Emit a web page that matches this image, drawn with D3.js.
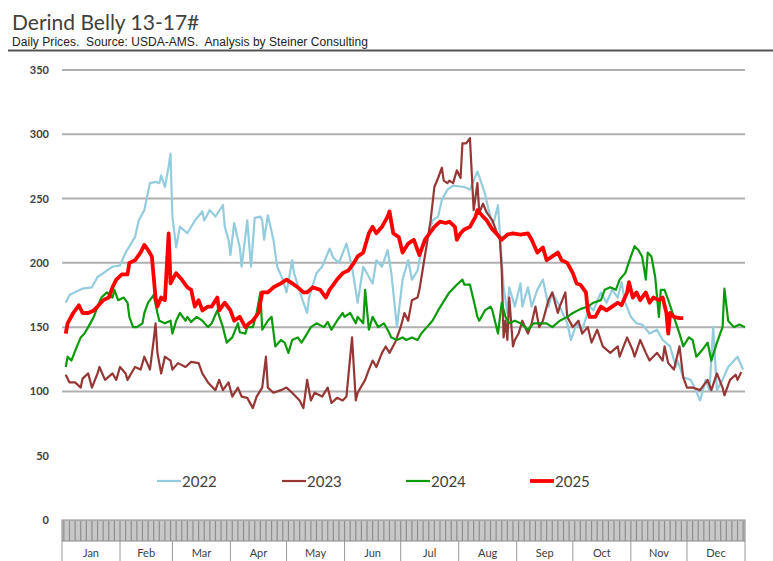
<!DOCTYPE html>
<html>
<head>
<meta charset="utf-8">
<script src="https://cdn.jsdelivr.net/npm/d3@7"></script>
<style>
  body { margin: 0; background: #fff; }
  svg { display: block; }
</style>
</head>
<body>
<svg id="chart" width="773" height="561"></svg>
<script>
var title = 'Derind Belly 13-17#';
var subtitle = 'Daily Prices.  Source: USDA-AMS.  Analysis by Steiner Consulting';

var yTicks = [0, 50, 100, 150, 200, 250, 300, 350];
var gridValues = [100, 150, 200, 250, 300, 350];
var months = ['Jan', 'Feb', 'Mar', 'Apr', 'May', 'Jun', 'Jul', 'Aug', 'Sep', 'Oct', 'Nov', 'Dec'];
var monthStarts = [0, 31, 59, 90, 120, 151, 181, 212, 243, 273, 304, 334, 365];
var years = ['2022', '2023', '2024', '2025'];

// [day of year, price]
var prices2022 = [[2,169],[4,175],[11,180],[16,181],[19,189],[23,193],[27,197],[31,198],[34,208],[39,220],[41,233],[44,241],[47,262],[50,263],[52,262],[53,268],[55,259],[57,275],[58,285],[59,236],[61,212],[63,228],[67,223],[71,233],[75,240],[76,233],[79,241],[82,236],[86,245],[87,228],[89,218],[90,206],[92,231],[95,212],[96,197],[99,233],[101,197],[103,235],[106,236],[107,233],[108,218],[110,237],[113,218],[115,197],[118,187],[120,177],[123,202],[124,192],[129,169],[131,161],[132,173],[136,192],[139,197],[143,211],[145,204],[148,200],[152,215],[155,197],[158,169],[161,197],[166,184],[168,202],[171,197],[174,210],[176,192],[179,150],[182,187],[185,202],[187,187],[190,194],[192,210],[195,218],[198,233],[201,236],[203,249],[206,257],[209,260],[215,259],[218,257],[222,271],[223,267],[226,254],[228,241],[230,231],[231,233],[233,245],[234,223],[236,181],[238,161],[239,181],[242,166],[245,184],[246,166],[249,181],[251,166],[254,179],[257,187],[260,166],[262,177],[266,166],[270,153],[272,140],[275,153],[278,148],[282,166],[284,163],[288,177],[291,169],[294,179],[297,173],[299,185],[301,169],[304,158],[307,153],[310,152],[314,145],[318,148],[321,140],[325,135],[328,119],[329,124],[332,111],[336,109],[338,103],[341,93],[344,109],[346,101],[348,150],[350,101],[353,109],[356,119],[361,127],[364,117]];

var prices2023 = [[2,113],[4,107],[7,107],[10,103],[11,110],[14,114],[16,103],[19,114],[20,119],[23,109],[27,114],[29,109],[31,119],[34,114],[35,109],[39,119],[42,117],[44,127],[47,117],[49,140],[50,153],[51,130],[53,114],[55,127],[58,124],[59,117],[62,122],[66,119],[69,123],[73,122],[75,114],[78,107],[82,101],[84,109],[86,101],[89,107],[91,96],[94,103],[96,96],[99,95],[102,87],[104,96],[107,103],[109,127],[110,103],[113,99],[117,101],[120,103],[123,99],[127,93],[129,87],[131,109],[133,93],[135,99],[139,96],[142,103],[144,91],[147,95],[150,93],[152,96],[155,142],[157,93],[158,99],[162,109],[164,117],[166,124],[168,119],[171,130],[173,135],[175,130],[178,138],[181,150],[183,161],[185,155],[187,171],[190,173],[191,179],[193,197],[195,215],[197,233],[199,259],[201,266],[203,274],[204,264],[206,262],[207,264],[209,262],[211,272],[213,266],[214,293],[216,293],[218,297],[220,241],[222,262],[223,239],[225,246],[227,239],[230,233],[232,225],[234,218],[235,194],[236,142],[237,155],[238,140],[239,173],[241,135],[242,140],[244,145],[246,155],[249,145],[251,153],[253,166],[255,150],[257,155],[260,171],[262,177],[265,161],[266,166],[269,177],[270,158],[273,150],[276,155],[278,145],[281,150],[283,138],[286,148],[289,135],[293,130],[297,135],[298,127],[302,142],[305,132],[306,127],[309,140],[312,130],[314,124],[318,130],[321,124],[322,135],[324,122],[327,117],[330,135],[332,111],[334,103],[337,103],[341,101],[345,109],[347,101],[350,114],[353,103],[354,97],[357,109],[360,113],[361,109],[363,115]];

var prices2024 = [[2,119],[3,127],[5,124],[8,135],[10,142],[12,145],[14,150],[17,158],[19,166],[21,173],[24,177],[27,173],[28,179],[30,171],[33,173],[35,169],[36,158],[38,150],[40,150],[43,153],[44,161],[46,169],[49,175],[51,161],[52,155],[55,153],[58,155],[59,145],[61,155],[63,161],[66,155],[67,158],[69,154],[72,158],[75,155],[78,150],[80,153],[83,163],[86,150],[88,138],[91,142],[94,153],[95,146],[98,145],[99,150],[102,150],[104,161],[106,177],[107,148],[110,155],[112,158],[114,135],[117,140],[119,138],[121,130],[123,140],[126,142],[128,138],[131,145],[133,150],[136,153],[140,150],[142,154],[144,148],[147,155],[150,161],[151,158],[154,161],[157,153],[158,158],[161,153],[162,179],[164,148],[166,158],[169,150],[172,153],[174,148],[176,142],[179,140],[182,142],[184,140],[187,142],[190,140],[192,145],[195,150],[198,155],[201,163],[204,170],[207,177],[211,183],[214,187],[215,183],[218,183],[220,171],[222,158],[223,155],[226,163],[229,166],[230,163],[233,145],[235,169],[237,158],[239,153],[242,155],[245,153],[249,148],[252,153],[255,153],[259,153],[262,150],[266,155],[270,158],[273,161],[277,164],[281,166],[284,169],[288,171],[290,179],[293,181],[296,179],[298,187],[301,192],[304,205],[306,213],[308,210],[310,205],[312,187],[313,208],[315,205],[317,189],[319,158],[320,179],[322,179],[324,171],[327,158],[330,145],[332,135],[335,142],[337,140],[339,127],[342,132],[345,138],[347,124],[350,138],[353,150],[354,180],[356,155],[359,150],[362,152],[365,150]];

var prices2025 = [[2,145],[3,153],[6,161],[9,167],[11,161],[14,161],[17,163],[19,166],[22,171],[25,173],[27,181],[29,187],[32,191],[35,191],[36,200],[39,202],[42,208],[44,214],[46,210],[48,205],[50,173],[51,166],[53,173],[55,171],[57,223],[58,184],[59,187],[61,192],[64,187],[67,181],[69,179],[71,166],[73,171],[75,163],[78,166],[80,166],[83,173],[84,163],[87,169],[90,163],[92,155],[95,158],[98,150],[100,153],[102,155],[105,161],[107,177],[110,177],[113,181],[117,184],[120,187],[123,184],[126,181],[129,177],[131,177],[134,181],[138,179],[141,173],[143,179],[147,187],[150,192],[153,194],[156,200],[158,205],[161,208],[164,223],[166,228],[168,223],[171,228],[174,236],[175,240],[177,223],[180,220],[182,208],[185,215],[188,218],[190,210],[191,206],[194,218],[197,224],[199,228],[202,232],[205,231],[207,232],[210,228],[211,218],[213,223],[215,226],[218,228],[221,236],[222,241],[225,236],[227,233],[230,226],[232,223],[235,218],[238,222],[241,223],[245,222],[249,223],[251,218],[254,208],[257,212],[259,202],[262,205],[265,208],[267,202],[270,200],[273,192],[275,184],[277,183],[280,177],[281,163],[282,158],[285,158],[288,166],[291,163],[294,166],[297,169],[299,167],[302,177],[303,185],[305,173],[307,177],[309,171],[312,177],[314,169],[316,173],[319,171],[321,173],[323,161],[324,145],[325,161],[327,158],[330,157],[332,157]];

var seriesList = [
  { name: '2022', data: prices2022, color: '#93cddd', width: 2.2 },
  { name: '2023', data: prices2023, color: '#953735', width: 2.2 },
  { name: '2024', data: prices2024, color: '#0a9a0a', width: 2.2 },
  { name: '2025', data: prices2025, color: '#ff0000', width: 3.8 }
];

var svg = d3.select('#chart');

var x = d3.scaleLinear().domain([0, 365]).range([62, 745]);
var y = d3.scaleLinear().domain([0, 350]).range([520, 70]);

// title block
svg.append('text')
  .attr('x', 12).attr('y', 30)
  .style('font-family', 'Lato, sans-serif')
  .style('font-size', '21px')
  .style('fill', '#404040')
  .text(title);

svg.append('text')
  .attr('x', 12).attr('y', 46)
  .style('font-family', '"Liberation Sans", Arial, sans-serif')
  .style('font-size', '12px')
  .style('letter-spacing', '0.05px')
  .style('fill', '#222')
  .attr('xml:space', 'preserve')
  .text(subtitle);

svg.append('line')
  .attr('x1', 8).attr('x2', 773)
  .attr('y1', 50.5).attr('y2', 50.5)
  .style('stroke', '#555')
  .style('stroke-width', 2);

// gridlines
svg.append('g').selectAll('line')
  .data(gridValues)
  .enter().append('line')
  .attr('x1', x(0)).attr('x2', x(365))
  .attr('y1', function(d) { return y(d); })
  .attr('y2', function(d) { return y(d); })
  .style('stroke', '#b0b0b0')
  .style('stroke-width', 2);

// y labels
svg.append('g').selectAll('text')
  .data(yTicks)
  .enter().append('text')
  .attr('x', 49)
  .attr('y', function(d) { return y(d) + 4; })
  .attr('text-anchor', 'end')
  .style('font-family', 'Lato, sans-serif')
  .style('font-size', '11px')
  .style('font-weight', 'bold')
  .style('fill', '#404040')
  .text(function(d) { return d; });

// category band at the bottom
var band = svg.append('g');
band.append('rect')
  .attr('x', x(0)).attr('y', 520)
  .attr('width', x(365) - x(0)).attr('height', 21)
  .style('fill', '#c8c8c8');

band.selectAll('.tick-line')
  .data(d3.range(1, 365, 3))
  .enter().append('line')
  .attr('class', 'tick-line')
  .attr('x1', function(d) { return x(d); })
  .attr('x2', function(d) { return x(d); })
  .attr('y1', 521).attr('y2', 541)
  .style('stroke', '#8e8e8e')
  .style('stroke-width', 1.2);

band.append('rect')
  .attr('x', x(0)).attr('y', 520)
  .attr('width', x(365) - x(0)).attr('height', 21)
  .style('fill', 'none')
  .style('stroke', '#8a8a8a')
  .style('stroke-width', 1);

band.selectAll('.month-div')
  .data(monthStarts)
  .enter().append('line')
  .attr('class', 'month-div')
  .attr('x1', function(d) { return x(d); })
  .attr('x2', function(d) { return x(d); })
  .attr('y1', 541).attr('y2', 561)
  .style('stroke', '#9a9a9a')
  .style('stroke-width', 1);

band.selectAll('.month-label')
  .data(months)
  .enter().append('text')
  .attr('class', 'month-label')
  .attr('x', function(d, i) { return (x(monthStarts[i]) + x(monthStarts[i + 1])) / 2; })
  .attr('y', 557)
  .attr('text-anchor', 'middle')
  .style('font-family', 'Lato, sans-serif')
  .style('font-size', '11px')
  .style('fill', '#404040')
  .text(function(d) { return d; });

// price lines
var line = d3.line()
  .x(function(d) { return x(d[0]); })
  .y(function(d) { return y(d[1]); });

svg.append('g').selectAll('path')
  .data(seriesList)
  .enter().append('path')
  .attr('d', function(d) { return line(d.data); })
  .style('fill', 'none')
  .style('stroke', function(d) { return d.color; })
  .style('stroke-width', function(d) { return d.width; })
  .style('stroke-linejoin', 'round');

// legend
var legendX = [157, 282, 406, 530];
var legend = svg.append('g').selectAll('g')
  .data(seriesList)
  .enter().append('g')
  .attr('transform', function(d, i) { return 'translate(' + legendX[i] + ',481)'; });

legend.append('line')
  .attr('x1', 0).attr('x2', 24)
  .style('stroke', function(d) { return d.color; })
  .style('stroke-width', function(d) { return d.width; });

legend.append('text')
  .attr('x', 25).attr('y', 5.5)
  .style('font-family', 'Lato, sans-serif')
  .style('font-size', '15px')
  .style('fill', '#404040')
  .text(function(d) { return d.name; });
</script>
</body>
</html>
